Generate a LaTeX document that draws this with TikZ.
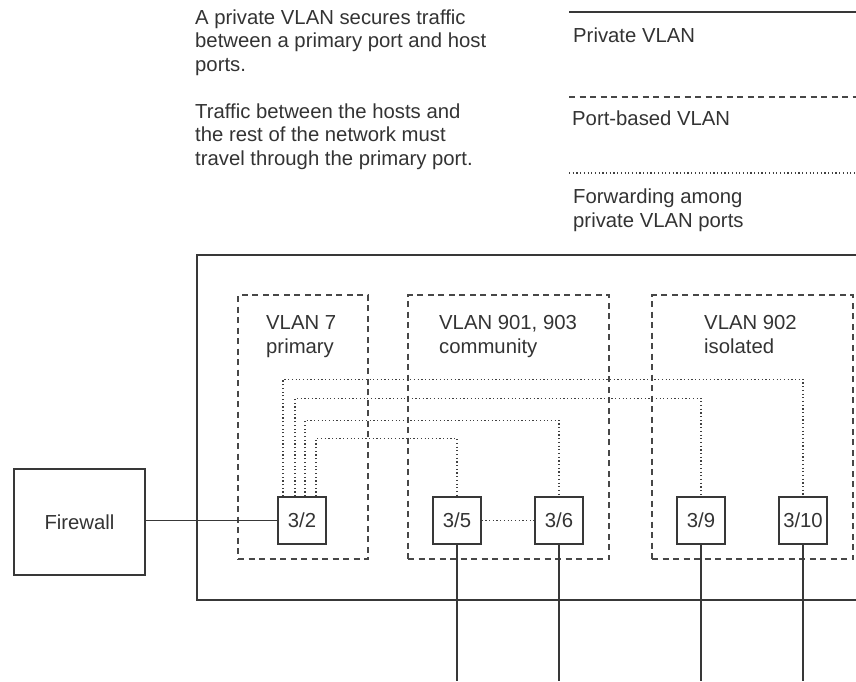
\documentclass[tikz,border=0pt]{standalone}
\usepackage{fontspec}
\setmainfont{Liberation Sans}
\usepackage{tikz}
\usetikzlibrary{calc}

\begin{document}
\begin{tikzpicture}[
    x=1pt, y=-1pt,
    every node/.style={text=black!80, font=\fontsize{20.3}{23.5}\selectfont},
    txt/.style={anchor=base west, align=left, inner sep=0pt},
    port/.style={draw=black!78, line width=1.3pt, minimum width=48pt, minimum height=47pt, inner sep=0pt},
    fwbox/.style={draw=black!78, line width=1.3pt, minimum width=131pt, minimum height=106pt, inner sep=0pt},
    vlan/.style={draw=black!72, line width=1.3pt, dash pattern=on 6pt off 4.5pt, inner sep=0pt},
    line/.style={draw=black!78, line width=1.3pt},
    fwd/.style={draw=black!75, line width=1.2pt, dash pattern=on 1.2pt off 2.5pt},
    pvlan/.style={draw=black!78, line width=2pt}
]
    \useasboundingbox (0,0) rectangle (856,681);

    % Top: notes and legend (base = last line)
    \node[txt] (note1) at (195,71) {A private VLAN secures traffic\\between a primary port and host\\ports.};
    \node[txt] (note2) at (195,165) {Traffic between the hosts and\\the rest of the network must\\travel through the primary port.};

    \coordinate (lg1) at (569,12);
    \coordinate (lg2) at (569,97);
    \coordinate (lg3) at (569,173);
    \draw[pvlan, line width=1.5pt] (lg1) -- ++(290,0);
    \draw[vlan] (lg2) -- ++(290,0);
    \draw[fwd] (lg3) -- ++(290,0);
    \node[txt] (lt1) at (573,42) {Private VLAN};
    \node[txt] (lt2) at (572,125) {Port-based VLAN};
    \node[txt] (lt3) at (573,227) {Forwarding among\\private VLAN ports};

    % Switch with private VLAN
    \coordinate (bot) at (0,681);
    \draw[pvlan] (860,255) -- (197,255) -- (197,600) -- (860,600);

    \node[vlan, minimum width=130pt, minimum height=264pt] (v7) at (303,427) {};
    \node[vlan, minimum width=201pt, minimum height=264pt] (v901) at (508.5,427) {};
    \node[vlan, minimum width=201pt, minimum height=264pt] (v902) at (752.5,427) {};

    \node[txt] (v7t) at (266,353) {VLAN 7\\primary};
    \node[txt] (v901t) at (439,353) {VLAN 901, 903\\community};
    \node[txt] (v902t) at (704,353) {VLAN 902\\isolated};

    \node[fwbox] (fw) at (79.5,522) {Firewall};
    \node[port] (p32) at (302,520.5) {3/2};
    \node[port] (p35) at (457,520.5) {3/5};
    \node[port] (p36) at (559,520.5) {3/6};
    \node[port] (p39) at (701,520.5) {3/9};
    \node[port] (p310) at (803,520.5) {3/10};

    \draw[line] (fw.east |- p32) -- (p32.west);
    \draw[line] (p35.south) -- (p35.south |- bot);
    \draw[line] (p36.south) -- (p36.south |- bot);
    \draw[line] (p39.south) -- (p39.south |- bot);
    \draw[line] (p310.south) -- (p310.south |- bot);

    % forwarding from the primary port
    \draw[fwd] ([xshift=-19pt]p32.north) -- ++(0,-117) -| (p310.north);
    \draw[fwd] ([xshift=-7pt]p32.north) -- ++(0,-98) -| (p39.north);
    \draw[fwd] ([xshift=3pt]p32.north) -- ++(0,-76) -| (p36.north);
    \draw[fwd] ([xshift=14pt]p32.north) -- ++(0,-58) -| (p35.north);
    \draw[fwd] (p35.east) -- (p36.west);

\end{tikzpicture}
\end{document}
